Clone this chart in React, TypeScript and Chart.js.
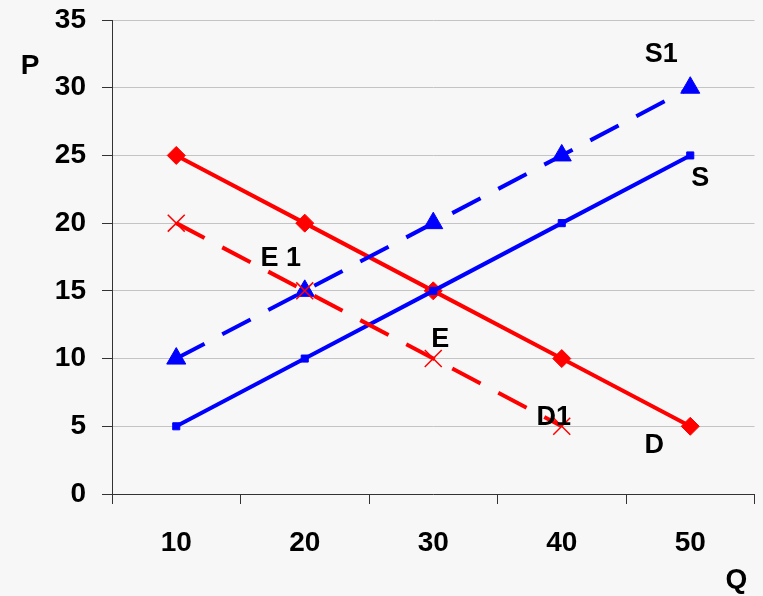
import React, { useEffect, useRef } from "react";
import { Chart, registerables } from "chart.js";

Chart.register(...registerables);

const categories = ["10", "20", "30", "40", "50"];
const dValues = [25, 20, 15, 10, 5];
const d1Values: (number | null)[] = [20, 15, 10, 5, null];
const sValues = [5, 10, 15, 20, 25];
const s1Values = [10, 15, 20, 25, 30];
const yMin = 0;
const yMax = 35;
const yStep = 5;
const yAxisTitle = "P";
const xAxisTitle = "Q";

// labels anchored to data points: [text, categoryIndex, value, dx, dy]
const annotations: [string, number, number, number, number][] = [
  ["S1", 4, 30, -29, -33],
  ["S", 4, 25, 10, 23],
  ["E 1", 1, 15, -24, -32],
  ["E", 2, 10, 7, -19],
  ["D1", 3, 5, -8, -9],
  ["D", 4, 5, -36, 19],
];

const FONT = "'Liberation Sans', Arial, sans-serif";
const RED = "#ff0000";
const BLUE = "#0000ff";
const CANVAS_W = 768;
const CANVAS_H = 596;

const textPlugin = {
  id: "textPlugin",
  afterDatasetsDraw(chart: any) {
    const { ctx, scales, chartArea } = chart;
    const xs = scales.x;
    const ys = scales.y;
    ctx.save();
    ctx.fillStyle = "#000";
    ctx.textAlign = "center";
    ctx.textBaseline = "middle";
    ctx.font = `bold 27px ${FONT}`;
    for (const [t, ci, v, dx, dy] of annotations) {
      ctx.fillText(t, xs.getPixelForValue(ci) + dx, ys.getPixelForValue(v) + dy);
    }
    ctx.font = `bold 28px ${FONT}`;
    ctx.fillText(yAxisTitle, chartArea.left - 82, chartArea.top + 46);
    ctx.fillText(xAxisTitle, chartArea.right - 18, chartArea.bottom + 86);
    ctx.restore();
  },
};

export default function App() {
  const ref = useRef<HTMLCanvasElement>(null);
  useEffect(() => {
    document.body.style.margin = "0";
    document.body.style.background = "#f7f7f7";
    const chart = new Chart(ref.current as HTMLCanvasElement, {
      type: "line",
      data: {
        labels: categories,
        datasets: [
          {
            label: "D1",
            data: d1Values,
            borderColor: RED,
            backgroundColor: RED,
            borderWidth: 4,
            borderDash: [32, 20],
            pointStyle: "crossRot",
            pointRadius: 12,
            pointBorderWidth: 1.5,
            tension: 0,
          },
          {
            label: "S1",
            data: s1Values,
            borderColor: BLUE,
            backgroundColor: BLUE,
            borderWidth: 4,
            borderDash: [32, 20],
            pointStyle: "triangle",
            pointRadius: 11,
            pointBorderWidth: 1,
            tension: 0,
          },
          {
            label: "S",
            data: sValues,
            borderColor: BLUE,
            backgroundColor: BLUE,
            borderWidth: 4,
            pointStyle: "rect",
            pointRadius: 5,
            pointBorderWidth: 1,
            tension: 0,
          },
          {
            label: "D",
            data: dValues,
            borderColor: RED,
            backgroundColor: RED,
            borderWidth: 4,
            pointStyle: "rectRot",
            pointRadius: 9,
            pointBorderWidth: 1,
            tension: 0,
          },
        ],
      },
      options: {
        animation: false,
        responsive: false,
        maintainAspectRatio: false,
        layout: { padding: { top: 20, right: 8, left: 0, bottom: 0 } },
        plugins: { legend: { display: false }, tooltip: { enabled: false } },
        scales: {
          x: {
            type: "category",
            offset: true,
            afterFit: (s: any) => {
              s.height = 102;
              s.paddingLeft = 0;
              s.paddingRight = 0;
            },
            grid: {
              offset: true,
              drawOnChartArea: false,
              drawTicks: true,
              tickLength: 10,
              tickColor: "#333",
              lineWidth: 1,
            },
            border: { display: true, color: "#333", width: 1 },
            ticks: {
              color: "#000",
              padding: 22,
              font: { family: FONT, size: 28, weight: "bold" },
              maxRotation: 0,
            },
          },
          y: {
            min: yMin,
            max: yMax,
            afterFit: (s: any) => {
              s.width = 112;
              s.paddingTop = 0;
              s.paddingBottom = 0;
            },
            grid: {
              color: "#c4c4c4",
              lineWidth: 1,
              drawTicks: true,
              tickLength: 10,
              tickColor: "#333",
            },
            border: { display: true, color: "#333", width: 1 },
            ticks: {
              stepSize: yStep,
              color: "#000",
              padding: 16,
              font: { family: FONT, size: 28, weight: "bold" },
            },
          },
        },
      },
      plugins: [textPlugin],
    } as any);
    return () => chart.destroy();
  }, []);
  return (
    <div
      style={{
        position: "fixed",
        left: 0,
        top: 0,
        width: 763,
        height: 596,
        overflow: "hidden",
        background: "#f7f7f7",
      }}
    >
      <canvas
        ref={ref}
        width={CANVAS_W}
        height={CANVAS_H}
        style={{ width: CANVAS_W, height: CANVAS_H, display: "block" }}
      />
    </div>
  );
}
